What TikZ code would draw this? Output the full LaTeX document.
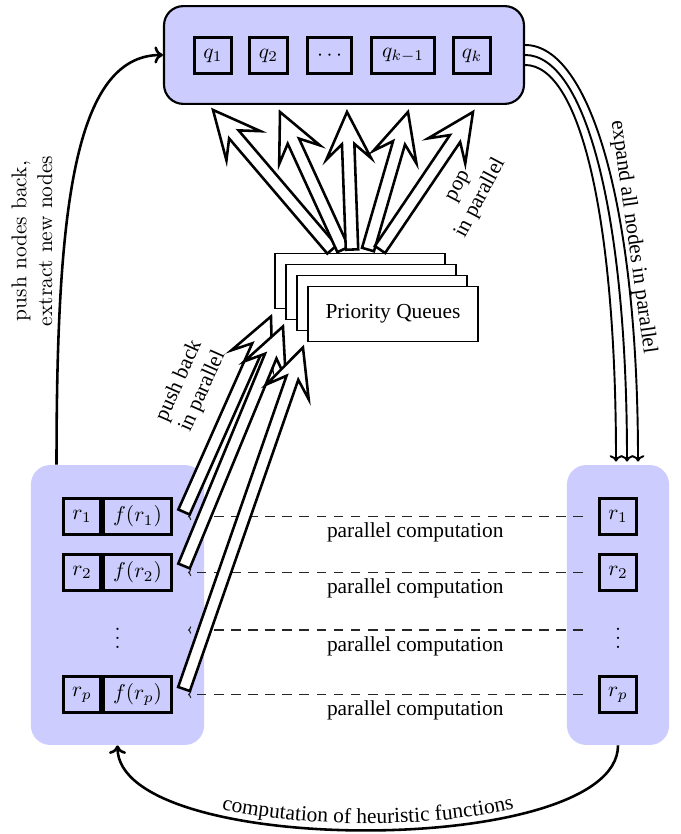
\documentclass[tikz,border=0pt]{standalone}
\usepackage{fontspec}
\newfontfamily\tnr{Liberation Serif}
\usetikzlibrary{calc,arrows.meta,decorations.text}
\definecolor{boxfill}{RGB}{204,204,255}

% Wide hollow arrow from #1 (tail) to #2 (tip)
\newcommand\hollowarrow[2]{%
  \coordinate (ha-n) at ($(#2)!22pt!(#1)$);
  \coordinate (ha-m) at ($(#2)!15pt!(#1)$);
  \filldraw[hollow]
    ($(#1)!2.9pt!90:(#2)$) -- ($(ha-m)!2.9pt!90:(#2)$)
    -- ($(ha-n)!10.5pt!90:(#2)$) -- (#2)
    -- ($(ha-n)!10.5pt!-90:(#2)$) -- ($(ha-m)!2.9pt!-90:(#2)$)
    -- ($(#1)!2.9pt!-90:(#2)$) -- cycle;
}

\begin{document}
\begin{tikzpicture}[
  x=0.4673pt, y=-0.4673pt,
  container/.style={fill=boxfill, rounded corners=9pt, inner sep=0pt},
  cell/.style={draw, line width=1.4pt, fill=boxfill, minimum width=17.3pt,
               minimum height=17pt, inner sep=2pt},
  card/.style={draw, thick, fill=white, minimum width=79.6pt,
               minimum height=25.8pt, font=\tnr},
  hollow/.style={fill=white, draw=black, line width=1.2pt},
  lbl/.style={font=\tnr, text=black, align=center, inner sep=0pt},
  lmlbl/.style={align=center, inner sep=0pt},
  flow/.style={line width=1.2pt, -{Computer Modern Rightarrow[length=4pt,width=8pt]}},
  fanline/.style={line width=0.9pt, -{Computer Modern Rightarrow[length=3pt,width=6pt]}},
  dashlink/.style={black!85, line width=0.5pt, dash pattern=on 4.5pt off 3.5pt,
                   shorten <=7pt, shorten >=7pt,
                   -{Computer Modern Rightarrow[length=1.5pt,width=3.5pt]}}
]
\useasboundingbox (0,0) rectangle (681,834);

% ---- containers ----
\node[container, draw, line width=1pt, minimum width=168.2pt, minimum height=45.7pt]
  (top) at (344,55) {};
\node[container, minimum width=80.9pt, minimum height=130.8pt] (Lbox) at (117.5,605) {};
\node[container, minimum width=47.7pt, minimum height=130.8pt] (Rbox) at (618,605) {};

% ---- queue heads ----
\node[cell] (q1) at (213,55.5) {$q_1$};
\node[cell] (q2) at (268.5,55.5) {$q_2$};
\node[cell, minimum width=20.6pt] (qd) at (329.5,55.5) {$\cdots$};
\node[cell, minimum width=29.5pt] (qk1) at (403,55.5) {$q_{k-1}$};
\node[cell] (qk) at (472,55.5) {$q_k$};

% ---- left column: nodes with heuristic values ----
\node[cell] (r1) at (82,516.5) {$r_1$};
\node[cell, minimum width=31.8pt] (f1) at (137.5,516.5) {$f(r_1)$};
\node[cell] (r2) at (82,572.5) {$r_2$};
\node[cell, minimum width=31.8pt] (f2) at (137.5,572.5) {$f(r_2)$};
\node (dL) at (117.5,632) {$\vdots$};
\node[cell] (rp) at (82,694.5) {$r_p$};
\node[cell, minimum width=31.8pt] (fp) at (137.5,694.5) {$f(r_p)$};

% ---- right column: expanded nodes ----
\node[cell] (s1) at (618,516.5) {$r_1$};
\node[cell] (s2) at (618,572.5) {$r_2$};
\node (dR) at (618,632) {$\vdots$};
\node[cell] (sp) at (618,694.5) {$r_p$};

% ---- stacked priority queues ----
\node[card] (pq1) at (360,281) {};
\node[card] (pq2) at (371,292) {};
\node[card] (pq3) at (382,303) {};
\node[card] (pq4) at (393,314) {Priority Queues};

% ---- dashed computation links ----
\coordinate (dLe) at (173,630);
\coordinate (dRw) at (598,630);
\draw[dashlink] (s1.west) -- node[lbl, pos=0.43, yshift=-7.5pt] {parallel computation} (f1.east);
\draw[dashlink] (s2.west) -- node[lbl, pos=0.43, yshift=-7.5pt] {parallel computation} (f2.east);
\draw[dashlink] (dRw) -- node[lbl, pos=0.43, yshift=-7.5pt] {parallel computation} (dLe);
\draw[dashlink] (sp.west) -- node[lbl, pos=0.43, yshift=-7.5pt] {parallel computation} (fp.east);

% ---- pop arrows ----
\coordinate (pb1) at ($(pq1.north)+(-28,-3)$);
\coordinate (pb2) at ($(pq1.north)+(-17,-3)$);
\coordinate (pb3) at ($(pq1.north)+(-8,-3)$);
\coordinate (pb4) at ($(pq1.north)+(8,-3)$);
\coordinate (pb5) at ($(pq1.north)+(20,-3)$);
\coordinate (pt1) at ($(top.south)+(-131,5)$);
\coordinate (pt2) at ($(top.south)+(-64,7)$);
\coordinate (pt3) at ($(top.south)+(3,7)$);
\coordinate (pt4) at ($(top.south)+(64,7)$);
\coordinate (pt5) at ($(top.south)+(129,7)$);
\hollowarrow{pb1}{pt1}
\hollowarrow{pb2}{pt2}
\hollowarrow{pb3}{pt3}
\hollowarrow{pb4}{pt4}
\hollowarrow{pb5}{pt5}

% ---- push-back arrows ----
\coordinate (ub1) at ($(f1.east)+(11,-4.5)$);
\coordinate (ub2) at ($(f2.east)+(11,-6.5)$);
\coordinate (ub3) at ($(fp.east)+(11,-5.5)$);
\coordinate (ut1) at ($(pq1.south west)+(-3,7)$);
\coordinate (ut2) at ($(pq2.south west)+(-2,6)$);
\coordinate (ut3) at ($(pq4.south west)+(-4,5)$);
\hollowarrow{ub1}{ut1}
\hollowarrow{ub2}{ut2}
\hollowarrow{ub3}{ut3}

% ---- curved flows ----
\draw[flow] ($(Lbox.north west)+(26,0)$) .. controls +(0,-250) and +(-90,0) .. (top.west);
\draw[fanline] ($(top.east)+(0,-10)$) .. controls +(65,0) and +(0,-255) .. ($(Rbox.north)+(20,-3)$);
\draw[fanline] (top.east) .. controls +(60,0) and +(0,-250) .. ($(Rbox.north)+(9,-3)$);
\draw[fanline] ($(top.east)+(0,10)$) .. controls +(55,0) and +(0,-245) .. ($(Rbox.north)+(-2,-3)$);
\draw[flow] (Rbox.south) .. controls +(0,113) and +(0,113) .. (Lbox.south);
\path[decorate, decoration={text along path, text align=center,
      text={|\tnr|computation of heuristic functions}}]
  ($(Lbox.south)+(8,0)$) .. controls +(0,104) and +(0,104) .. ($(Rbox.south)+(-8,0)$);

% ---- labels ----
\node[lmlbl, rotate=90] (lbpush) at (32,241) {push nodes back,\\extract new nodes};
\node[lbl, rotate=-82] (lbexpand) at (633,237) {expand all nodes in parallel};
\node[lbl, rotate=62] (lbpop) at (471,193) {pop\\in parallel};
\node[lbl, rotate=66] (lbback) at (191,386) {push back\\in parallel};
\end{tikzpicture}
\end{document}
